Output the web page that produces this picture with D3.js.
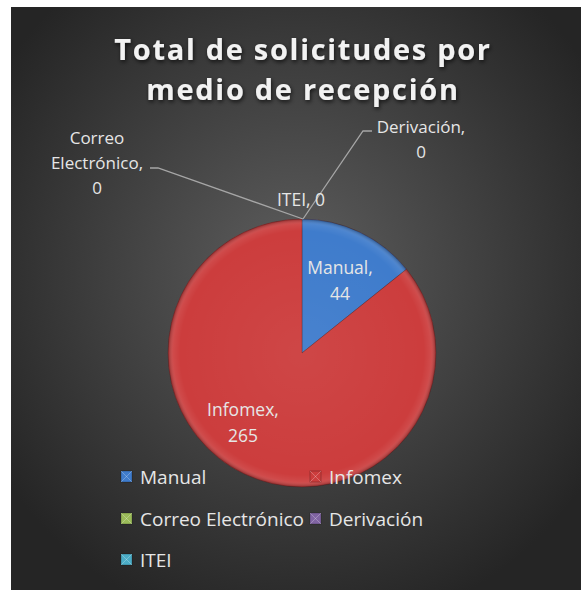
<!DOCTYPE html>
<html lang="es">
<head>
<meta charset="UTF-8">
<script src="https://cdn.jsdelivr.net/npm/d3@7"></script>
<title>Total de solicitudes por medio de recepción</title>
<style>
    body { margin: 0; background: #fff; }
    svg text { font-family: "Open Sans", "Noto Sans", sans-serif; }
</style>
</head>
<body>
<div id="chart"></div>
<script>
    // datos
    const categories = ["Manual", "Infomex", "Correo Electrónico", "Derivación", "ITEI"];
    const values = [44, 265, 0, 0, 0];
    const colors = ["#3f7ccc", "#cc3d3d", "#9bbb59", "#8064a2", "#4bacc6"];
    const titleLines = ["Total de solicitudes por", "medio de recepción"];

    const width = 583, height = 590;
    const cx = 302, cy = 353, r = 134;

    const svg = d3.select("#chart").append("svg")
        .attr("width", width)
        .attr("height", height);

    const defs = svg.append("defs");

    const bg = defs.append("radialGradient").attr("id", "bg")
        .attr("cx", "50%").attr("cy", "45%").attr("r", "62%");
    bg.append("stop").attr("offset", "0%").attr("stop-color", "#5e5e5e");
    bg.append("stop").attr("offset", "100%").attr("stop-color", "#252525");

    const shade = defs.append("radialGradient").attr("id", "shade")
        .attr("gradientUnits", "userSpaceOnUse")
        .attr("cx", cx).attr("cy", cy).attr("r", r);
    shade.append("stop").attr("offset", "0%").attr("stop-color", "#fff").attr("stop-opacity", 0.05);
    shade.append("stop").attr("offset", "91%").attr("stop-color", "#fff").attr("stop-opacity", 0);
    shade.append("stop").attr("offset", "96%").attr("stop-color", "#fff").attr("stop-opacity", 0.07);
    shade.append("stop").attr("offset", "100%").attr("stop-color", "#000").attr("stop-opacity", 0.3);

    const glow = defs.append("filter").attr("id", "tshadow")
        .attr("x", "-10%").attr("y", "-30%").attr("width", "120%").attr("height", "160%");
    glow.append("feDropShadow").attr("dx", 1).attr("dy", 2).attr("stdDeviation", 2)
        .attr("flood-color", "#000").attr("flood-opacity", 0.7);

    svg.append("rect")
        .attr("x", 11).attr("y", 7)
        .attr("width", 570).attr("height", 590)
        .attr("fill", "url(#bg)");

    // titulo
    svg.append("g").selectAll("text")
        .data(titleLines)
        .join("text")
        .attr("x", 303)
        .attr("y", (d, i) => 60 + i * 40)
        .attr("text-anchor", "middle")
        .attr("fill", "#f2f2f2")
        .attr("font-size", 29)
        .attr("font-weight", "bold")
        .attr("letter-spacing", 1.7)
        .attr("filter", "url(#tshadow)")
        .text(d => d);

    // pie
    const pie = d3.pie().sort(null).value(d => d.value);
    const arcs = pie(categories.map((c, i) => ({ name: c, value: values[i], color: colors[i] })));
    const arc = d3.arc().innerRadius(0).outerRadius(r);

    const g = svg.append("g").attr("transform", `translate(${cx},${cy})`);
    g.selectAll("path.slice")
        .data(arcs.filter(d => d.value > 0))
        .join("path")
        .attr("class", "slice")
        .attr("d", arc)
        .attr("fill", d => d.data.color)
        .attr("stroke", "#5a1c1c")
        .attr("stroke-opacity", 0.35)
        .attr("stroke-width", 1);

    svg.append("circle")
        .attr("cx", cx).attr("cy", cy).attr("r", r)
        .attr("fill", "url(#shade)")
        .attr("pointer-events", "none");

    // etiquetas
    const labelColor = "#e6e6e6";
    const labelFont = 17.5;
    const lines = g => g.attr("fill", labelColor).attr("font-size", labelFont).attr("text-anchor", "middle");

    const inside = [
        { i: 0, pos: [340, 274] },
        { i: 1, pos: [243, 416] }
    ];
    inside.forEach(o => {
        const t = svg.append("text").call(lines);
        t.append("tspan").attr("x", o.pos[0]).attr("y", o.pos[1]).text(categories[o.i] + ",");
        t.append("tspan").attr("x", o.pos[0]).attr("dy", 26).text(values[o.i]);
    });

    // etiquetas de valores cero con líneas guía
    const topPt = [cx + 1, cy - r];
    const leader = d3.line();
    svg.append("path")
        .attr("d", leader([[150, 168], [158, 168], topPt]))
        .attr("fill", "none").attr("stroke", "#a6a6a6").attr("stroke-width", 1.3);
    svg.append("path")
        .attr("d", leader([topPt, [363, 131], [372, 131]]))
        .attr("fill", "none").attr("stroke", "#a6a6a6").attr("stroke-width", 1.3);

    const correo = svg.append("text").call(lines).attr("font-size", 17);
    ["Correo", "Electrónico,", values[2]].forEach((s, k) => {
        correo.append("tspan").attr("x", 97).attr("y", 144 + k * 25).text(s);
    });
    const deriv = svg.append("text").call(lines).attr("font-size", 17);
    [categories[3] + ",", values[3]].forEach((s, k) => {
        deriv.append("tspan").attr("x", 421).attr("y", 133 + k * 25).text(s);
    });
    svg.append("text").call(lines)
        .attr("x", 301).attr("y", 206)
        .text(categories[4] + ", " + values[4]);

    // leyenda
    const legendPos = [[126, 477], [315, 477], [126, 519], [315, 519], [126, 560]];
    const lg = svg.append("g").selectAll("g")
        .data(categories)
        .join("g")
        .attr("transform", (d, i) => `translate(${legendPos[i][0]},${legendPos[i][1]})`);
    lg.append("rect")
        .attr("x", -5).attr("y", -6).attr("width", 11).attr("height", 11)
        .attr("fill", (d, i) => colors[i])
        .attr("stroke", "#000").attr("stroke-opacity", 0.3).attr("stroke-width", 0.8);
    lg.append("path")
        .attr("d", "M-5,-6L6,5M6,-6L-5,5")
        .attr("stroke", "#fff").attr("stroke-opacity", 0.25).attr("stroke-width", 1);
    lg.append("text")
        .attr("x", 14).attr("y", 6.5)
        .attr("fill", labelColor)
        .attr("font-size", 19)
        .attr("font-size", 19)
        .text(d => d);
</script>
</body>
</html>
